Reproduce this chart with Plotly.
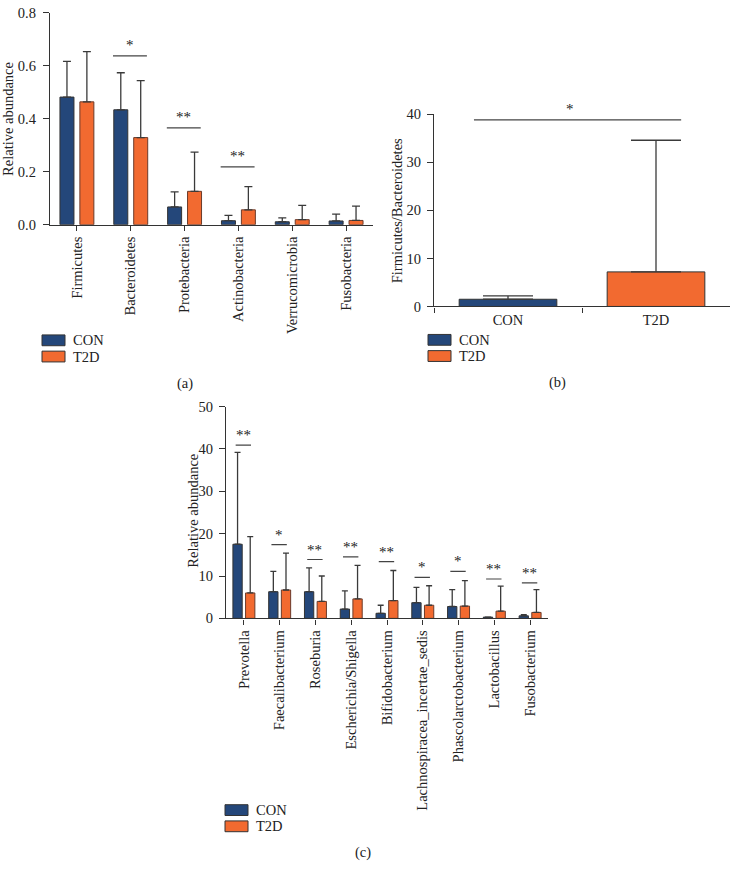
import plotly.graph_objects as go

# ---------------- data ----------------
phyla = ["Firmicutes", "Bacteroidetes", "Protebacteria", "Actinobacteria",
         "Verrucomicrobia", "Fusobacteria"]
phyla_con = [0.482, 0.434, 0.067, 0.015, 0.011, 0.014]
phyla_con_sd = [0.135, 0.140, 0.057, 0.020, 0.015, 0.026]
phyla_t2d = [0.464, 0.329, 0.126, 0.056, 0.019, 0.016]
phyla_t2d_sd = [0.190, 0.215, 0.148, 0.088, 0.054, 0.054]
phyla_sig = [(1, 0.638, "*"), (2, 0.366, "**"), (3, 0.218, "**")]

fb_groups = ["CON", "T2D"]
fb_ratio = [1.5, 7.2]
fb_sd = [0.7, 27.4]
fb_sig_y = 38.85

genera = ["Prevotella", "Faecalibacterium", "Roseburia", "Escherichia/Shigella",
          "Bifidobacterium", "Lachnospiracea_incertae_sedis",
          "Phascolarctobacterium", "Lactobacillus", "Fusobacterium"]
genera_con = [17.5, 6.3, 6.3, 2.2, 1.2, 3.7, 2.8, 0.3, 0.6]
genera_con_sd = [21.7, 4.8, 5.6, 4.3, 1.9, 3.6, 4.0, 0.0, 0.25]
genera_t2d = [6.0, 6.7, 4.0, 4.6, 4.2, 3.1, 2.9, 1.7, 1.4]
genera_t2d_sd = [13.3, 8.7, 6.0, 7.9, 7.1, 4.6, 6.0, 5.9, 5.4]
genera_sig = [40.9, 17.4, 13.9, 14.5, 13.4, 9.7, 11.1, 9.3, 8.4]
genera_sig_txt = ["**", "*", "**", "**", "**", "*", "*", "**", "**"]

CON_C = "#24477a"
T2D_C = "#f26a30"
EDGE = "#333333"
FONT = "Liberation Serif"
W, H = 730, 878
FS = 14.5

fig = go.Figure()


def err(sd, w):
    return dict(type="data", array=sd, arrayminus=[0] * len(sd), symmetric=False,
                color="#3a3a3a", thickness=1.3, width=w)


# panel (a)
fig.add_trace(go.Bar(x=phyla, y=phyla_con, error_y=err(phyla_con_sd, 4),
                     marker=dict(color=CON_C, line=dict(color=EDGE, width=1)),
                     width=0.26, offset=-0.315, xaxis="x", yaxis="y", showlegend=False))
fig.add_trace(go.Bar(x=phyla, y=phyla_t2d, error_y=err(phyla_t2d_sd, 4),
                     marker=dict(color=T2D_C, line=dict(color="#6b3a2a", width=1)),
                     width=0.26, offset=0.055, xaxis="x", yaxis="y", showlegend=False))
# panel (b)
fig.add_trace(go.Bar(x=fb_groups, y=fb_ratio, error_y=err(fb_sd, 25),
                     marker=dict(color=[CON_C, T2D_C], line=dict(color=EDGE, width=1)),
                     width=0.66, offset=-0.33, xaxis="x2", yaxis="y2", showlegend=False))
# panel (c)
fig.add_trace(go.Bar(x=genera, y=genera_con, error_y=err(genera_con_sd, 3),
                     marker=dict(color=CON_C, line=dict(color=EDGE, width=1)),
                     width=0.26, offset=-0.307, xaxis="x3", yaxis="y3", showlegend=False))
fig.add_trace(go.Bar(x=genera, y=genera_t2d, error_y=err(genera_t2d_sd, 3),
                     marker=dict(color=T2D_C, line=dict(color="#6b3a2a", width=1)),
                     width=0.26, offset=0.047, xaxis="x3", yaxis="y3", showlegend=False))

tickfont = dict(family=FONT, size=FS, color="#222")
axcommon = dict(showline=True, linecolor=EDGE, linewidth=1.3, ticks="outside",
                tickcolor=EDGE, tickwidth=1.2, showgrid=False, zeroline=False,
                tickfont=tickfont)

shapes = []
annotations = []

# significance marks
for i, yv, t in phyla_sig:
    shapes.append(dict(type="line", xref="x", yref="y", x0=i - 0.33, x1=i + 0.3,
                       y0=yv, y1=yv, line=dict(color="#444", width=1.3)))
    annotations.append(dict(xref="x", yref="y", x=i - 0.015, y=yv, text=t, showarrow=False,
                            yanchor="bottom", yshift=1, font=dict(family=FONT, size=15, color="#222")))
shapes.append(dict(type="line", xref="x2", yref="y2", x0=-0.23, x1=1.17,
                   y0=fb_sig_y, y1=fb_sig_y, line=dict(color="#444", width=1.3)))
annotations.append(dict(xref="x2", yref="y2", x=0.42, y=fb_sig_y, text="*", showarrow=False,
                        yanchor="bottom", yshift=1, font=dict(family=FONT, size=15, color="#222")))
for i, (yv, t) in enumerate(zip(genera_sig, genera_sig_txt)):
    shapes.append(dict(type="line", xref="x3", yref="y3", x0=i - 0.23, x1=i + 0.2,
                       y0=yv, y1=yv, line=dict(color="#444", width=1.2)))
    annotations.append(dict(xref="x3", yref="y3", x=i - 0.015, y=yv, text=t, showarrow=False,
                            yanchor="bottom", yshift=0, font=dict(family=FONT, size=15, color="#222")))

# axis titles
def vtitle(px, py, text):
    annotations.append(dict(xref="paper", yref="paper", x=px / W, y=1 - py / H, text=text,
                            textangle=-90, showarrow=False, xanchor="center", yanchor="middle",
                            font=dict(family=FONT, size=FS, color="#222")))

vtitle(8, 113, "Relative abundance")
vtitle(397, 207, "Firmicutes/Bacteroidetes")
vtitle(193, 512, "Relative abundance")

# legends (manual boxes)
def legend(px, py_con, py_t2d):
    for py, col, lab in [(py_con, CON_C, "CON"), (py_t2d, T2D_C, "T2D")]:
        shapes.append(dict(type="rect", xref="paper", yref="paper",
                           x0=px / W, x1=(px + 23) / W, y0=1 - (py + 5.5) / H, y1=1 - (py - 5.5) / H,
                           fillcolor=col, line=dict(color=EDGE, width=1)))
        annotations.append(dict(xref="paper", yref="paper", x=(px + 29) / W, y=1 - py / H,
                                text=lab, showarrow=False, xanchor="left", yanchor="middle",
                                font=dict(family=FONT, size=FS, color="#222")))

legend(42, 338.5, 355)
legend(428, 338, 354.5)
legend(225, 817, 833.5)

for px, py, t in [(185, 382, "(a)"), (557, 381, "(b)"), (363, 860, "(c)")]:
    annotations.append(dict(xref="paper", yref="paper", x=px / W, y=1 - py / H, text=t,
                            showarrow=False, xanchor="center", yanchor="middle",
                            font=dict(family=FONT, size=FS, color="#222")))

fig.update_layout(
    width=W, height=H, margin=dict(l=0, r=0, t=0, b=0),
    paper_bgcolor="white", plot_bgcolor="white", barmode="overlay",
    showlegend=False,
    xaxis=dict(domain=[50 / W, 373 / W], anchor="y", type="category", categoryarray=phyla,
               tickangle=-90, ticklen=5, range=[-0.5, 5.5], **axcommon),
    yaxis=dict(domain=[1 - 220.7 / H, 1 - 5 / H], anchor="x", range=[0, 0.8], dtick=0.2,
               tickformat=".1f", ticklen=6, ticklabelstandoff=4, **axcommon),
    xaxis2=dict(domain=[434 / W, 1.0], anchor="y2", type="category", categoryarray=fb_groups,
                range=[-0.5, 1.5], tickson="boundaries", ticklen=5, **axcommon),
    yaxis2=dict(domain=[1 - 304 / H, 1 - 108.3 / H], anchor="x2", range=[0, 40], dtick=10,
                ticklen=6, ticklabelstandoff=3, **axcommon),
    xaxis3=dict(domain=[226 / W, 548 / W], anchor="y3", type="category", categoryarray=genera,
                tickangle=-90, ticklen=5, range=[-0.5, 8.5], **axcommon),
    yaxis3=dict(domain=[1 - 621.7 / H, 1 - 406 / H], anchor="x3", range=[0, 50], dtick=10,
                ticklen=6, ticklabelstandoff=3, **axcommon),
    shapes=shapes, annotations=annotations,
)

fig.write_html("out.html", config={"displayModeBar": False},
               post_script="document.body.style.margin='0';document.body.style.overflow='hidden';")
